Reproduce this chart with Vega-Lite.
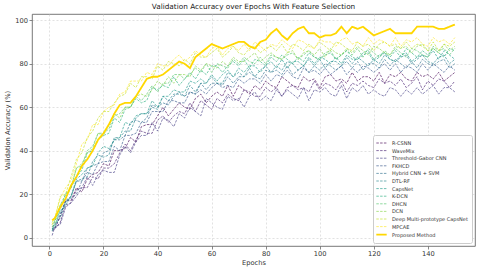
{
  "$schema": "https://vega.github.io/schema/vega-lite/v6.json",
  "width": 443,
  "height": 232,
  "autosize": "none",
  "padding": {"left": 32, "top": 14, "right": 5, "bottom": 23},
  "background": "white",
  "title": {"text": "Validation Accuracy over Epochs With Feature Selection", "fontSize": 7.3, "font": "DejaVu Sans", "fontWeight": "normal", "color": "#222222", "offset": 4},
  "datasets": {
    "names": [
      {"k": "a", "name": "R-CSNN"},
      {"k": "b", "name": "WaveMix"},
      {"k": "c", "name": "Threshold-Gabor CNN"},
      {"k": "d", "name": "FKHCD"},
      {"k": "e", "name": "Hybrid CNN + SVM"},
      {"k": "f", "name": "DTL-RF"},
      {"k": "g", "name": "CapsNet"},
      {"k": "h", "name": "K-DCN"},
      {"k": "i", "name": "DHCN"},
      {"k": "j", "name": "DCN"},
      {"k": "k", "name": "Deep Multi-prototype CapsNet"},
      {"k": "l", "name": "MPCAE"},
      {"k": "m", "name": "Proposed Method"}
    ]
  },
  "data": {"values": [
    {"ep":1,"a":4,"b":3,"c":1,"d":4,"e":5,"f":4,"g":3,"h":4,"i":6,"j":5,"k":7,"l":6,"m":8},
    {"ep":2,"a":4,"b":4,"c":5,"d":4,"e":6,"f":6,"g":8,"h":5,"i":8,"j":7,"k":9,"l":9,"m":9},
    {"ep":4,"a":10,"b":7,"c":6,"d":10,"e":11,"f":9,"g":12,"h":13,"i":15,"j":15,"k":19,"l":18,"m":14},
    {"ep":6,"a":17,"b":15,"c":14,"d":17,"e":17,"f":16,"g":15,"h":20,"i":20,"j":18,"k":20,"l":23,"m":18},
    {"ep":8,"a":17,"b":16,"c":16,"d":18,"e":19,"f":19,"g":19,"h":23,"i":23,"j":23,"k":28,"l":26,"m":24},
    {"ep":10,"a":23,"b":22,"c":19,"d":20,"e":26,"f":26,"g":27,"h":28,"i":32,"j":32,"k":36,"l":34,"m":28},
    {"ep":12,"a":21,"b":23,"c":23,"d":26,"e":26,"f":27,"g":29,"h":31,"i":33,"j":34,"k":39,"l":43,"m":33},
    {"ep":14,"a":27,"b":23,"c":28,"d":30,"e":32,"f":28,"g":32,"h":39,"i":40,"j":39,"k":46,"l":45,"m":36},
    {"ep":16,"a":29,"b":28,"c":24,"d":29,"e":33,"f":35,"g":33,"h":40,"i":42,"j":41,"k":49,"l":52,"m":40},
    {"ep":18,"a":30,"b":27,"c":29,"d":34,"e":34,"f":38,"g":39,"h":45,"i":48,"j":48,"k":55,"l":52,"m":45},
    {"ep":20,"a":34,"b":32,"c":31,"d":35,"e":39,"f":37,"g":42,"h":47,"i":48,"j":47,"k":58,"l":58,"m":48},
    {"ep":22,"a":33,"b":32,"c":30,"d":35,"e":40,"f":38,"g":41,"h":48,"i":50,"j":52,"k":58,"l":60,"m":52},
    {"ep":24,"a":40,"b":34,"c":30,"d":42,"e":45,"f":46,"g":45,"h":55,"i":56,"j":57,"k":62,"l":61,"m":57},
    {"ep":26,"a":40,"b":39,"c":38,"d":40,"e":45,"f":46,"g":46,"h":53,"i":57,"j":55,"k":65,"l":66,"m":61},
    {"ep":28,"a":41,"b":43,"c":42,"d":47,"e":47,"f":49,"g":53,"h":59,"i":60,"j":60,"k":66,"l":67,"m":62},
    {"ep":30,"a":46,"b":40,"c":39,"d":47,"e":53,"f":49,"g":52,"h":60,"i":60,"j":60,"k":71,"l":72,"m":62},
    {"ep":32,"a":44,"b":45,"c":44,"d":48,"e":54,"f":55,"g":56,"h":64,"i":65,"j":65,"k":69,"l":72,"m":65},
    {"ep":34,"a":51,"b":49,"c":47,"d":53,"e":53,"f":57,"g":57,"h":62,"i":63,"j":66,"k":74,"l":72,"m":69},
    {"ep":36,"a":52,"b":48,"c":47,"d":53,"e":55,"f":57,"g":57,"h":63,"i":66,"j":65,"k":74,"l":76,"m":73},
    {"ep":38,"a":52,"b":48,"c":53,"d":58,"e":61,"f":60,"g":63,"h":69,"i":70,"j":68,"k":73,"l":75,"m":74},
    {"ep":40,"a":56,"b":54,"c":49,"d":58,"e":60,"f":59,"g":60,"h":68,"i":67,"j":72,"k":79,"l":80,"m":74},
    {"ep":42,"a":60,"b":56,"c":55,"d":58,"e":62,"f":65,"g":65,"h":70,"i":71,"j":70,"k":77,"l":79,"m":75},
    {"ep":44,"a":56,"b":53,"c":54,"d":63,"e":61,"f":63,"g":65,"h":69,"i":71,"j":74,"k":81,"l":79,"m":77},
    {"ep":46,"a":59,"b":56,"c":51,"d":63,"e":65,"f":66,"g":68,"h":74,"i":75,"j":71,"k":80,"l":82,"m":79},
    {"ep":48,"a":62,"b":58,"c":57,"d":62,"e":67,"f":66,"g":67,"h":70,"i":75,"j":75,"k":79,"l":84,"m":81},
    {"ep":50,"a":60,"b":57,"c":55,"d":62,"e":65,"f":65,"g":67,"h":73,"i":73,"j":75,"k":82,"l":81,"m":80},
    {"ep":52,"a":59,"b":62,"c":60,"d":67,"e":67,"f":70,"g":72,"h":76,"i":75,"j":74,"k":80,"l":83,"m":78},
    {"ep":54,"a":64,"b":58,"c":58,"d":66,"e":66,"f":67,"g":71,"h":73,"i":78,"j":79,"k":85,"l":86,"m":83},
    {"ep":56,"a":66,"b":63,"c":56,"d":68,"e":71,"f":71,"g":73,"h":77,"i":76,"j":77,"k":83,"l":84,"m":85},
    {"ep":58,"a":62,"b":61,"c":64,"d":66,"e":68,"f":71,"g":71,"h":75,"i":80,"j":80,"k":83,"l":83,"m":87},
    {"ep":60,"a":65,"b":59,"c":62,"d":69,"e":71,"f":74,"g":75,"h":79,"i":76,"j":79,"k":85,"l":87,"m":89},
    {"ep":62,"a":67,"b":64,"c":60,"d":71,"e":71,"f":71,"g":72,"h":79,"i":80,"j":78,"k":87,"l":88,"m":88},
    {"ep":64,"a":65,"b":62,"c":59,"d":69,"e":70,"f":71,"g":75,"h":76,"i":79,"j":81,"k":83,"l":84,"m":87},
    {"ep":66,"a":70,"b":66,"c":65,"d":70,"e":74,"f":76,"g":77,"h":79,"i":78,"j":79,"k":85,"l":87,"m":88},
    {"ep":68,"a":65,"b":64,"c":63,"d":69,"e":71,"f":74,"g":74,"h":81,"i":82,"j":83,"k":88,"l":88,"m":89},
    {"ep":70,"a":70,"b":63,"c":64,"d":73,"e":74,"f":76,"g":78,"h":79,"i":80,"j":81,"k":85,"l":86,"m":90},
    {"ep":72,"a":68,"b":68,"c":60,"d":71,"e":74,"f":74,"g":76,"h":82,"i":83,"j":81,"k":84,"l":89,"m":90},
    {"ep":74,"a":66,"b":67,"c":65,"d":73,"e":76,"f":78,"g":79,"h":78,"i":81,"j":83,"k":87,"l":86,"m":88},
    {"ep":76,"a":70,"b":65,"c":67,"d":73,"e":74,"f":74,"g":79,"h":82,"i":80,"j":85,"k":88,"l":90,"m":87},
    {"ep":78,"a":68,"b":65,"c":63,"d":71,"e":73,"f":77,"g":76,"h":81,"i":83,"j":81,"k":85,"l":88,"m":90},
    {"ep":80,"a":72,"b":69,"c":65,"d":75,"e":77,"f":79,"g":79,"h":79,"i":80,"j":83,"k":87,"l":86,"m":91},
    {"ep":82,"a":70,"b":67,"c":63,"d":72,"e":76,"f":76,"g":81,"h":83,"i":84,"j":85,"k":88,"l":89,"m":94},
    {"ep":84,"a":69,"b":69,"c":68,"d":75,"e":77,"f":79,"g":78,"h":81,"i":83,"j":83,"k":86,"l":88,"m":96},
    {"ep":86,"a":74,"b":65,"c":65,"d":74,"e":75,"f":77,"g":82,"h":84,"i":82,"j":82,"k":89,"l":91,"m":93},
    {"ep":88,"a":72,"b":69,"c":68,"d":77,"e":79,"f":81,"g":78,"h":82,"i":84,"j":85,"k":85,"l":89,"m":91},
    {"ep":90,"a":70,"b":70,"c":66,"d":74,"e":75,"f":80,"g":81,"h":80,"i":85,"j":86,"k":89,"l":87,"m":94},
    {"ep":92,"a":69,"b":68,"c":64,"d":73,"e":77,"f":77,"g":81,"h":83,"i":82,"j":82,"k":88,"l":91,"m":96},
    {"ep":94,"a":74,"b":69,"c":69,"d":78,"e":79,"f":79,"g":79,"h":81,"i":84,"j":85,"k":86,"l":90,"m":97},
    {"ep":96,"a":72,"b":67,"c":63,"d":76,"e":76,"f":82,"g":83,"h":85,"i":86,"j":86,"k":89,"l":88,"m":94},
    {"ep":98,"a":73,"b":72,"c":68,"d":77,"e":79,"f":79,"g":80,"h":83,"i":83,"j":84,"k":87,"l":87,"m":94},
    {"ep":100,"a":69,"b":68,"c":67,"d":75,"e":77,"f":82,"g":83,"h":82,"i":82,"j":87,"k":90,"l":91,"m":92},
    {"ep":102,"a":74,"b":71,"c":69,"d":78,"e":80,"f":78,"g":82,"h":84,"i":85,"j":83,"k":88,"l":90,"m":93},
    {"ep":104,"a":75,"b":70,"c":66,"d":75,"e":79,"f":81,"g":80,"h":85,"i":86,"j":87,"k":86,"l":90,"m":93},
    {"ep":106,"a":72,"b":68,"c":65,"d":77,"e":77,"f":81,"g":83,"h":82,"i":82,"j":85,"k":90,"l":88,"m":94},
    {"ep":108,"a":73,"b":72,"c":70,"d":79,"e":79,"f":79,"g":80,"h":84,"i":84,"j":84,"k":89,"l":91,"m":97},
    {"ep":110,"a":71,"b":67,"c":64,"d":75,"e":81,"f":83,"g":84,"h":86,"i":86,"j":87,"k":87,"l":92,"m":94},
    {"ep":112,"a":76,"b":71,"c":69,"d":78,"e":78,"f":80,"g":82,"h":83,"i":84,"j":85,"k":86,"l":89,"m":97},
    {"ep":114,"a":72,"b":70,"c":67,"d":76,"e":81,"f":83,"g":82,"h":82,"i":87,"j":88,"k":90,"l":90,"m":96},
    {"ep":116,"a":74,"b":72,"c":70,"d":79,"e":77,"f":81,"g":84,"h":85,"i":83,"j":86,"k":88,"l":88,"m":97},
    {"ep":118,"a":74,"b":70,"c":66,"d":78,"e":80,"f":79,"g":85,"h":86,"i":87,"j":84,"k":89,"l":92,"m":95},
    {"ep":120,"a":72,"b":69,"c":68,"d":76,"e":80,"f":82,"g":81,"h":82,"i":85,"j":88,"k":86,"l":89,"m":93},
    {"ep":122,"a":76,"b":73,"c":66,"d":78,"e":78,"f":80,"g":83,"h":84,"i":83,"j":87,"k":89,"l":91,"m":94},
    {"ep":124,"a":71,"b":71,"c":65,"d":80,"e":82,"f":84,"g":85,"h":85,"i":86,"j":85,"k":90,"l":90,"m":95},
    {"ep":126,"a":75,"b":72,"c":69,"d":77,"e":79,"f":82,"g":82,"h":83,"i":84,"j":84,"k":88,"l":88,"m":96},
    {"ep":128,"a":74,"b":70,"c":68,"d":80,"e":82,"f":81,"g":81,"h":86,"i":87,"j":88,"k":89,"l":92,"m":94},
    {"ep":130,"a":76,"b":73,"c":65,"d":76,"e":80,"f":83,"g":84,"h":83,"i":85,"j":87,"k":87,"l":88,"m":94},
    {"ep":132,"a":73,"b":69,"c":68,"d":79,"e":78,"f":84,"g":85,"h":87,"i":83,"j":88,"k":90,"l":91,"m":94},
    {"ep":134,"a":72,"b":71,"c":66,"d":78,"e":81,"f":80,"g":81,"h":85,"i":87,"j":85,"k":87,"l":90,"m":94},
    {"ep":136,"a":76,"b":74,"c":69,"d":76,"e":78,"f":82,"g":83,"h":83,"i":86,"j":88,"k":89,"l":92,"m":97},
    {"ep":138,"a":74,"b":68,"c":66,"d":80,"e":82,"f":84,"g":84,"h":86,"i":84,"j":89,"k":88,"l":89,"m":97},
    {"ep":140,"a":75,"b":72,"c":68,"d":77,"e":80,"f":81,"g":83,"h":84,"i":83,"j":86,"k":86,"l":88,"m":97},
    {"ep":142,"a":73,"b":70,"c":70,"d":80,"e":79,"f":80,"g":86,"h":87,"i":88,"j":87,"k":90,"l":92,"m":97},
    {"ep":144,"a":76,"b":73,"c":66,"d":78,"e":81,"f":83,"g":82,"h":85,"i":86,"j":85,"k":86,"l":90,"m":96},
    {"ep":146,"a":72,"b":72,"c":69,"d":76,"e":82,"f":84,"g":86,"h":83,"i":87,"j":89,"k":89,"l":91,"m":96},
    {"ep":148,"a":74,"b":69,"c":69,"d":79,"e":78,"f":80,"g":84,"h":87,"i":84,"j":86,"k":88,"l":89,"m":97},
    {"ep":150,"a":76,"b":72,"c":67,"d":77,"e":80,"f":82,"g":82,"h":86,"i":87,"j":88,"k":90,"l":92,"m":98}
  ]},
  "transform": [
    {"fold": ["a","b","c","d","e","f","g","h","i","j","k","l","m"], "as": ["k","v"]},
    {"lookup": "k", "from": {"data": {"name": "names"}, "key": "k", "fields": ["name"]}}
  ],
  "mark": {"type": "line", "interpolate": "linear"},
  "encoding": {
    "x": {"field": "ep", "type": "quantitative", "scale": {"domain": [-6.45, 157.45], "nice": false, "zero": false}, "axis": {"title": "Epochs", "values": [0,20,40,60,80,100,120,140], "titlePadding": 2}},
    "y": {"field": "v", "type": "quantitative", "scale": {"domain": [-3.85, 102.85], "nice": false, "zero": false}, "axis": {"title": "Validation Accuracy (%)", "values": [0,20,40,60,80,100], "titlePadding": 4}},
    "color": {"field": "name", "type": "nominal", "scale": {"domain": ["R-CSNN","WaveMix","Threshold-Gabor CNN","FKHCD","Hybrid CNN + SVM","DTL-RF","CapsNet","K-DCN","DHCN","DCN","Deep Multi-prototype CapsNet","MPCAE","Proposed Method"], "range": ["#440154","#482173","#433e85","#38588c","#2d708e","#25858e","#1e9b8a","#2ab07f","#52c569","#86d549","#c2df23","#fde725","#FFD700"]}},
    "strokeDash": {"field": "name", "type": "nominal", "scale": {"domain": ["R-CSNN","WaveMix","Threshold-Gabor CNN","FKHCD","Hybrid CNN + SVM","DTL-RF","CapsNet","K-DCN","DHCN","DCN","Deep Multi-prototype CapsNet","MPCAE","Proposed Method"], "range": [[2.5,1.3],[2.5,1.3],[2.5,1.3],[2.5,1.3],[2.5,1.3],[2.5,1.3],[2.5,1.3],[2.5,1.3],[2.5,1.3],[2.5,1.3],[2.5,1.3],[2.5,1.3],[1,0]]}},
    "strokeWidth": {"field": "name", "type": "nominal", "scale": {"type": "ordinal", "domain": ["R-CSNN","WaveMix","Threshold-Gabor CNN","FKHCD","Hybrid CNN + SVM","DTL-RF","CapsNet","K-DCN","DHCN","DCN","Deep Multi-prototype CapsNet","MPCAE","Proposed Method"], "range": [0.8,0.8,0.8,0.8,0.8,0.8,0.8,0.8,0.8,0.8,0.8,0.8,1.8]}},
    "opacity": {"field": "name", "type": "nominal", "scale": {"type": "ordinal", "domain": ["R-CSNN","WaveMix","Threshold-Gabor CNN","FKHCD","Hybrid CNN + SVM","DTL-RF","CapsNet","K-DCN","DHCN","DCN","Deep Multi-prototype CapsNet","MPCAE","Proposed Method"], "range": [0.8,0.8,0.8,0.8,0.8,0.8,0.8,0.8,0.8,0.8,0.8,0.8,1]}}
  },
  "config": {
    "font": "DejaVu Sans",
    "view": {"stroke": "#555555", "strokeWidth": 0.8},
    "axis": {"labelFont": "DejaVu Sans", "titleFont": "DejaVu Sans", "labelFontSize": 6.7, "titleFontSize": 6.7, "titleFontWeight": "normal", "labelColor": "#333333", "titleColor": "#333333", "tickColor": "#555555", "tickSize": 3, "tickWidth": 0.7, "labelPadding": 1.5, "domain": false, "grid": true, "gridColor": "#cfcfcf", "gridDash": [2, 2], "gridWidth": 0.6, "labelFlush": false},
    "legend": {"title": null, "orient": "bottom-right", "offset": 3, "symbolType": "M-1.6,0H1.6", "symbolSize": 42, "labelFontSize": 5, "labelFont": "DejaVu Sans", "labelColor": "#333333", "padding": 4, "rowPadding": 0.6, "strokeColor": "#cccccc", "fillColor": "#ffffff", "cornerRadius": 2, "labelLimit": 200, "labelOffset": 6}
  }
}
